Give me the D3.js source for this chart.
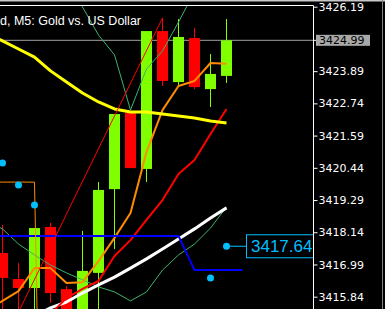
<!DOCTYPE html>
<html>
<head>
<meta charset="utf-8">
<script src="https://cdn.jsdelivr.net/npm/d3@7/dist/d3.min.js"></script>
<style>
  html, body { margin: 0; padding: 0; background: #000; overflow: hidden; }
  svg { display: block; }
</style>
</head>
<body>
<script>
// XAUUSD M5 bars, index 0 = leftmost bar in the window
var open  = [3417.40, 3416.47, 3416.15, 3418.33, 3416.11, 3415.08, 3416.69, 3419.68, 3422.40, 3420.40, 3425.32, 3423.50, 3425.07, 3423.25, 3423.72];
var high  = [3418.40, 3417.04, 3418.29, 3418.47, 3416.22, 3418.19, 3419.93, 3422.36, 3422.40, 3425.32, 3425.79, 3425.75, 3425.43, 3424.50, 3425.75];
var low   = [3415.01, 3415.15, 3415.19, 3415.62, 3414.79, 3414.79, 3415.29, 3417.54, 3420.43, 3419.93, 3423.36, 3423.40, 3423.25, 3422.61, 3423.47];
var close = [3416.51, 3416.15, 3418.29, 3415.97, 3415.08, 3416.76, 3419.65, 3422.36, 3420.43, 3425.32, 3423.54, 3425.11, 3423.32, 3423.79, 3424.99];

// indicator buffers, first value belongs to bar -1 (just left of the window)
var maYellow = [3425.25, 3424.97, 3424.68, 3424.39, 3423.90, 3423.50, 3423.11, 3422.79, 3422.54, 3422.43, 3422.43, 3422.36, 3422.29, 3422.22, 3422.11, 3422.04];
var maOrange = [3415.37, 3415.69, 3416.04, 3416.86, 3416.86, 3416.33, 3416.36, 3417.11, 3417.94, 3418.83, 3421.00, 3422.50, 3423.36, 3423.54, 3424.18, 3424.15];
var maRed    = [null, null, null, null, 3415.22, 3415.79, 3416.12, 3416.40, 3417.29, 3417.86, 3418.58, 3419.29, 3420.22, 3420.72, 3421.65, 3422.54];
var maWhite  = [null, null, null, 3415.15, 3415.44, 3415.65, 3415.97, 3416.26, 3416.54, 3416.86, 3417.19, 3417.54, 3417.90, 3418.26, 3418.65, 3419.01];
var bandUp   = [null, null, null, null, null, 3427.32, 3426.18, 3425.18, 3424.47, 3422.50, 3423.97, 3424.61, 3425.64, 3426.72, 3427.32, null];
var bandLow  = [3418.54, 3418.26, 3417.72, 3417.33, 3416.97, 3416.69, 3416.44, 3416.19, 3416.01, 3415.69, 3416.01, 3416.79, 3417.33, 3417.72, 3418.29, 3419.04];
var stopLine = [3419.93, 3419.93, 3419.93, 3419.93, 3390.92];
// blue level, runs one bar into the future
var level    = [3418.01, 3418.01, 3418.01, 3418.01, 3418.01, 3418.01, 3418.01, 3418.01, 3418.01, 3418.01, 3418.01, 3418.01, 3418.01, 3416.79, 3416.79, 3416.79, 3416.79];

// cyan signal dots
var dotBar   = [0, 1, 2, 13, 14];
var dotPrice = [3420.61, 3419.83, 3419.11, 3416.51, 3417.64];

// trend line (bar, price)
var trendBar   = [1, 10];
var trendPrice = [3415.29, 3425.79];

var priceTicks = [3426.19, 3425.04, 3423.89, 3422.74, 3421.59, 3420.44, 3419.29, 3418.14, 3416.99, 3415.84];
var bid = close[close.length - 1];
var tagPrice = 3417.64;
var title = "d, M5:  Gold vs. US Dollar";

var W = 385, H = 309;
var plotRight = 313;

var svg = d3.select("body").append("svg")
  .attr("width", W)
  .attr("height", H)
  .style("background", "#000");

var x = d3.scaleLinear().domain([0, 14]).range([2.5, 226.5]);
var y = d3.scaleLinear().domain([3415.84, 3426.19]).range([296.7, 6.7]);

svg.append("defs").append("clipPath").attr("id", "plot")
  .append("rect").attr("x", 0).attr("y", 6).attr("width", plotRight).attr("height", H - 6);

// window frame
svg.append("rect").attr("x", 0).attr("y", 0).attr("width", W).attr("height", 1.5).attr("fill", "#c8c8c8");
svg.append("line").attr("x1", 0).attr("x2", plotRight + 0.5).attr("y1", 5.5).attr("y2", 5.5).attr("stroke", "#fff");
svg.append("line").attr("x1", plotRight + 0.5).attr("x2", plotRight + 0.5).attr("y1", 5.5).attr("y2", H).attr("stroke", "#fff");
svg.append("line").attr("x1", 382.5).attr("x2", 382.5).attr("y1", 0).attr("y2", H).attr("stroke", "#808080");

var plot = svg.append("g").attr("clip-path", "url(#plot)");

// bid line
plot.append("line")
  .attr("x1", 0).attr("x2", plotRight)
  .attr("y1", y(bid)).attr("y2", y(bid))
  .attr("stroke", "#a0a0a0");

// candles
var bars = d3.range(open.length);
var up = "#80ff00", down = "#ff0000";
plot.selectAll(".wick").data(bars).enter().append("line")
  .attr("x1", function (i) { return x(i); })
  .attr("x2", function (i) { return x(i); })
  .attr("y1", function (i) { return y(high[i]); })
  .attr("y2", function (i) { return y(low[i]); })
  .attr("stroke", function (i) { return close[i] >= open[i] ? up : down; });
plot.selectAll(".body").data(bars).enter().append("rect")
  .attr("x", function (i) { return x(i) - 5.5; })
  .attr("width", 11)
  .attr("y", function (i) { return y(Math.max(open[i], close[i])); })
  .attr("height", function (i) { return Math.max(1, Math.abs(y(open[i]) - y(close[i]))); })
  .attr("fill", function (i) { return close[i] >= open[i] ? up : down; });

function drawBuffer(values, color, width) {
  var pts = values.map(function (v, k) { return { i: k - 1, v: v }; });
  var line = d3.line()
    .defined(function (d) { return d.v != null; })
    .x(function (d) { return x(d.i); })
    .y(function (d) { return y(d.v); });
  plot.append("path")
    .datum(pts)
    .attr("d", line)
    .attr("fill", "none")
    .attr("stroke", color)
    .attr("stroke-width", width)
    .attr("stroke-linejoin", "round");
}

drawBuffer(bandUp, "#3cb371", 1);
drawBuffer(bandLow, "#3cb371", 1);
drawBuffer(maWhite, "#ffffff", 3);
drawBuffer(maRed, "#ff0000", 2);
drawBuffer(maOrange, "#ff8c00", 2);
drawBuffer(maYellow, "#ffff00", 3);
drawBuffer(level, "#0000ff", 2);
drawBuffer(stopLine, "#ff8c00", 1);

// trend line
plot.append("line")
  .attr("x1", x(trendBar[0])).attr("y1", y(trendPrice[0]))
  .attr("x2", x(trendBar[1])).attr("y2", y(trendPrice[1]))
  .attr("stroke", "#ff0000")
  .attr("stroke-width", 1);

// signal dots
var cyan = "#00bfff";
plot.selectAll(".dot").data(dotBar).enter().append("circle")
  .attr("cx", function (b) { return x(b); })
  .attr("cy", function (b, k) { return y(dotPrice[k]); })
  .attr("r", 3.5)
  .attr("fill", cyan);

// price tag next to the last dot
var ty = y(tagPrice);
plot.append("line")
  .attr("x1", x(14)).attr("x2", 246)
  .attr("y1", ty).attr("y2", ty)
  .attr("stroke", cyan);
plot.append("rect")
  .attr("x", 246.5).attr("y", ty - 11.5)
  .attr("width", 90).attr("height", 23)
  .attr("fill", "#000")
  .attr("stroke", cyan);
plot.append("text")
  .attr("x", 251).attr("y", ty + 6)
  .attr("fill", cyan)
  .attr("font-family", "Liberation Sans, Arial, sans-serif")
  .attr("font-size", 17)
  .text(d3.format(".2f")(tagPrice));

// title
svg.append("text")
  .attr("x", 0).attr("y", 25)
  .attr("fill", "#fff")
  .attr("font-family", "Liberation Sans, Arial, sans-serif")
  .attr("font-size", 12.5)
  .text(title);

// price axis
var shown = priceTicks.filter(function (p) { return Math.abs(y(p) - y(bid)) > 8; });
var axis = svg.append("g")
  .attr("transform", "translate(" + (plotRight + 0.5) + ",0)")
  .call(d3.axisRight(y).tickValues(shown).tickSize(4).tickPadding(1).tickFormat(d3.format(".2f")));
axis.select(".domain").remove();
axis.selectAll("line").attr("stroke", "#fff");
axis.selectAll("text")
  .attr("fill", "#fff")
  .attr("font-family", "DejaVu Sans, sans-serif")
  .attr("font-size", 11);

// bid label
var by = y(bid);
svg.append("line")
  .attr("x1", plotRight).attr("x2", 316)
  .attr("y1", by).attr("y2", by)
  .attr("stroke", "#fff");
svg.append("rect")
  .attr("x", 316).attr("y", by - 5.5)
  .attr("width", 54).attr("height", 11)
  .attr("fill", "#a8a8a8");
svg.append("text")
  .attr("x", 319).attr("y", by)
  .attr("dy", "0.35em")
  .attr("fill", "#000")
  .attr("font-family", "DejaVu Sans, sans-serif")
  .attr("font-size", 11)
  .text(d3.format(".2f")(bid));
</script>
</body>
</html>
